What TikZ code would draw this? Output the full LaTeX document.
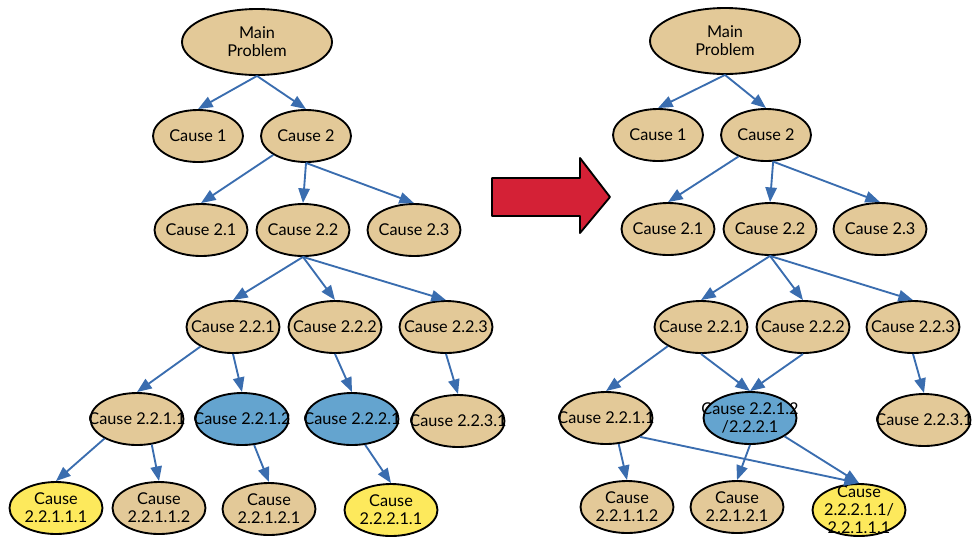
\documentclass[tikz,border=0pt]{standalone}
\usepackage{fontspec}
\setmainfont{Lato}
\usetikzlibrary{arrows.meta, shapes.geometric}

\definecolor{causetan}{HTML}{E3C998}
\definecolor{causeblue}{HTML}{64A4CF}
\definecolor{causeyellow}{HTML}{FDE95C}
\definecolor{linkblue}{HTML}{3A6DAF}
\definecolor{arrowred}{HTML}{D42136}

% text of a node, kept out of the ellipse's size
\newcommand{\celltext}[1]{\makebox[0pt]{\smash{\raisebox{-4.5pt}{%
  \begin{tabular}{@{}c@{}}#1\end{tabular}}}}}

\begin{document}
\begin{tikzpicture}[x=0.75pt, y=-0.75pt, line join=round,
    cause/.style={ellipse, draw, line width=1.4pt, fill=causetan, inner sep=0pt,
      minimum width=69.75pt, minimum height=39pt,
      font=\fontsize{12.2}{13.5}\selectfont},
    rootcause/.style={cause, minimum width=112.5pt, minimum height=49.5pt},
    firstcause/.style={cause, minimum width=67.5pt},
    hit/.style={fill=causeblue},
    leaf/.style={fill=causeyellow},
    link/.style={draw=linkblue, line width=1.4pt, -{Triangle[length=11pt, width=8.5pt]}}]
  \clip (0,0) rectangle (973,537);

  % tree before
  \node[rootcause] (lmain) at (257,42) {\celltext{Main\\Problem}};
  \node[firstcause] (lc1) at (198,136) {\celltext{Cause 1}};
  \node[firstcause] (lc2) at (306,136) {\celltext{Cause 2}};
  \node[cause] (lc21) at (201,230) {\celltext{Cause 2.1}};
  \node[cause] (lc22) at (303,230) {\celltext{Cause 2.2}};
  \node[cause] (lc23) at (414,230) {\celltext{Cause 2.3}};
  \node[cause] (lc221) at (233,327) {\celltext{Cause 2.2.1}};
  \node[cause] (lc222) at (335,327) {\celltext{Cause 2.2.2}};
  \node[cause] (lc223) at (446,327) {\celltext{Cause 2.2.3}};
  \node[cause] (lc2211) at (137,419) {\celltext{Cause 2.2.1.1}};
  \node[cause, hit] (lc2212) at (242,419) {\celltext{Cause 2.2.1.2}};
  \node[cause, hit] (lc2221) at (352,419) {\celltext{Cause 2.2.2.1}};
  \node[cause] (lc2231) at (458,421) {\celltext{Cause 2.2.3.1}};
  \node[cause, leaf] (lc22111) at (56,508) {\celltext{Cause\\2.2.1.1.1}};
  \node[cause] (lc22112) at (159,508) {\celltext{Cause\\2.2.1.1.2}};
  \node[cause] (lc22121) at (269,509) {\celltext{Cause\\2.2.1.2.1}};
  \node[cause, leaf] (lc22211) at (391,510) {\celltext{Cause\\2.2.2.1.1}};

  \draw[link] (lmain.south) -- (lc1.north);
  \draw[link] (lmain.south) -- (lc2.north);
  \draw[link] (lc2.-150) -- (lc21.north);
  \draw[link] (lc2.south) -- (lc22.north);
  \draw[link] (lc2.south) -- (lc23.north);
  \draw[link] (lc22.south) -- (lc221.north);
  \draw[link] (lc22.south) -- (lc222.north);
  \draw[link] (lc22.south) -- (lc223.north);
  \draw[link] (lc221.-149) -- (lc2211.north);
  \draw[link] (lc221.south) -- (lc2212.north);
  \draw[link] (lc222.south) -- (lc2221.north);
  \draw[link] (lc223.south) -- (lc2231.north);
  \draw[link] (lc2211.-149) -- (lc22111.north);
  \draw[link] (lc2211.-60) -- (lc22112.north);
  \draw[link] (lc2212.-65) -- (lc22121.north);
  \draw[link] (lc2221.-63) -- (lc22211.north);

  % big arrow
  \draw[line width=1.4pt, fill=arrowred] (492,178) -- (580,178) -- (580,158)
    -- (610,197) -- (580,233) -- (580,216) -- (492,216) -- cycle;

  % tree after, with shared causes merged
  \node[rootcause] (rmain) at (725,41) {\celltext{Main\\Problem}};
  \node[firstcause] (rc1) at (658,135) {\celltext{Cause 1}};
  \node[firstcause] (rc2) at (766,135) {\celltext{Cause 2}};
  \node[cause] (rc21) at (668,229) {\celltext{Cause 2.1}};
  \node[cause] (rc22) at (770,229) {\celltext{Cause 2.2}};
  \node[cause] (rc23) at (880,229) {\celltext{Cause 2.3}};
  \node[cause] (rc221) at (701,327) {\celltext{Cause 2.2.1}};
  \node[cause] (rc222) at (803,327) {\celltext{Cause 2.2.2}};
  \node[cause] (rc223) at (913,327) {\celltext{Cause 2.2.3}};
  \node[cause] (rc2211) at (606,418) {\celltext{Cause 2.2.1.1}};
  \node[cause, hit] (rmerge) at (750,418) {\celltext{Cause 2.2.1.2\\/2.2.2.1}};
  \node[cause] (rc2231) at (924,420) {\celltext{Cause 2.2.3.1}};
  \node[cause] (rc22112) at (627,507) {\celltext{Cause\\2.2.1.1.2}};
  \node[cause] (rc22121) at (737,507) {\celltext{Cause\\2.2.1.2.1}};
  \node[cause, leaf] (rleaf) at (859,510) {\celltext{Cause\\2.2.2.1.1/\\2.2.1.1.1}};

  \draw[link] (rmain.south) -- (rc1.north);
  \draw[link] (rmain.south) -- (rc2.north);
  \draw[link] (rc2.-142) -- (rc21.north);
  \draw[link] (rc2.-75) -- (rc22.north);
  \draw[link] (rc2.-75) -- (rc23.north);
  \draw[link] (rc22.south) -- (rc221.north);
  \draw[link] (rc22.south) -- (rc222.north);
  \draw[link] (rc22.south) -- (rc223.north);
  \draw[link] (rc221.-150) -- (rc2211.north);
  \draw[link] (rc221.south) -- (rmerge.north);
  \draw[link] (rc222.south) -- (rmerge.north);
  \draw[link] (rc223.south) -- (rc2231.north);
  \draw[link] (rc2211.-64) -- (rc22112.north);
  \draw[link] (rc2211.-29) -- (rleaf.north);
  \draw[link] (rmerge.south) -- (rc22121.north);
  \draw[link] (rmerge.-28) -- (rleaf.north);
\end{tikzpicture}
\end{document}
